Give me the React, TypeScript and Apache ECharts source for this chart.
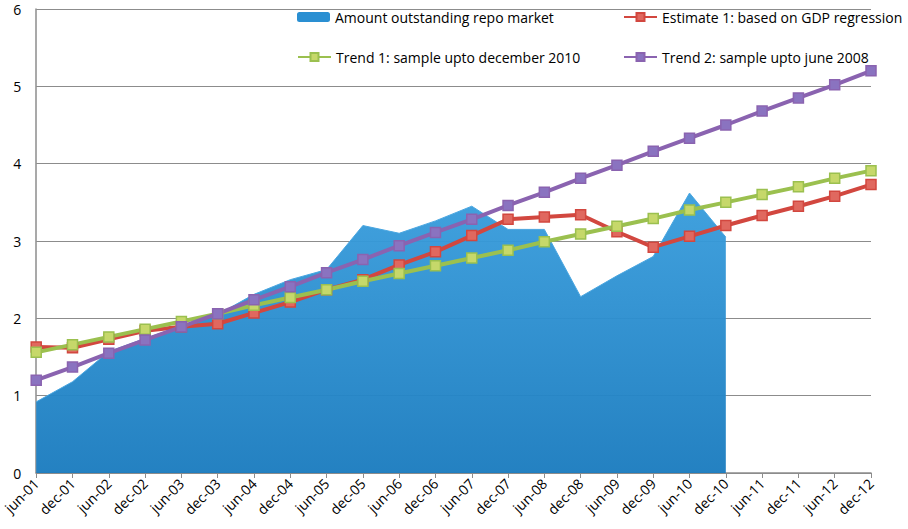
import React, { useEffect, useRef } from "react";
import * as echarts from "echarts";

const categories = [
  "jun-01", "dec-01", "jun-02", "dec-02", "jun-03", "dec-03", "jun-04", "dec-04",
  "jun-05", "dec-05", "jun-06", "dec-06", "jun-07", "dec-07", "jun-08", "dec-08",
  "jun-09", "dec-09", "jun-10", "dec-10", "jun-11", "dec-11", "jun-12", "dec-12",
];

const repoAmount: (number | null)[] = [
  0.92, 1.18, 1.57, 1.74, 1.9, 2.05, 2.31, 2.5, 2.63, 3.2, 3.1, 3.26,
  3.45, 3.15, 3.15, 2.28, 2.55, 2.8, 3.62, 3.05, null, null, null, null,
];

const estimate1 = [
  1.63, 1.62, 1.73, 1.84, 1.89, 1.93, 2.07, 2.21, 2.37, 2.5, 2.69, 2.86,
  3.07, 3.28, 3.31, 3.34, 3.12, 2.92, 3.06, 3.2, 3.33, 3.45, 3.58, 3.73,
];

const trend1 = [
  1.56, 1.66, 1.76, 1.86, 1.96, 2.06, 2.17, 2.27, 2.37, 2.48, 2.58, 2.68,
  2.78, 2.88, 2.99, 3.09, 3.19, 3.29, 3.4, 3.5, 3.6, 3.7, 3.81, 3.91,
];

const trend2 = [
  1.2, 1.37, 1.55, 1.72, 1.89, 2.06, 2.24, 2.41, 2.59, 2.76, 2.94, 3.11,
  3.28, 3.46, 3.63, 3.81, 3.98, 4.16, 4.33, 4.5, 4.68, 4.85, 5.02, 5.2,
];

const seriesNames = [
  "Amount outstanding repo market",
  "Estimate 1: based on GDP regression",
  "Trend 1: sample upto december 2010",
  "Trend 2: sample upto june 2008",
];

const FONT = "Open Sans";

export default function App() {
  const ref = useRef<HTMLDivElement>(null);
  useEffect(() => {
    if (!ref.current) return;
    const chart = echarts.init(ref.current, undefined, { renderer: "svg" });
    const legendBase = {
      itemWidth: 33,
      itemHeight: 10,
      itemGap: 4,
      padding: 0,
      textStyle: { fontFamily: FONT, fontSize: 14, color: "#000" },
    };
    const lineSeries = (name: string, data: number[], color: string, light: string) => ({
      name,
      type: "line",
      data,
      symbol: "rect",
      symbolSize: 10,
      lineStyle: { color, width: 4 },
      itemStyle: { color: light, borderColor: color, borderWidth: 1.5 },
      z: 3,
    });
    chart.setOption({
      animation: false,
      backgroundColor: "#ffffff",
      textStyle: { fontFamily: FONT },
      grid: { left: 33, right: 37, top: 9, bottom: 56, containLabel: false },
      legend: [
        {
          ...legendBase,
          left: 297,
          top: 10,
          data: [{ name: seriesNames[0], icon: "roundRect", itemStyle: { color: "#2a8fd2" } }],
        },
        { ...legendBase, left: 623, top: 10, data: [seriesNames[1]] },
        { ...legendBase, left: 297, top: 50, data: [seriesNames[2]] },
        { ...legendBase, left: 623, top: 50, data: [seriesNames[3]] },
      ],
      xAxis: {
        type: "category",
        data: categories,
        boundaryGap: false,
        axisLine: { lineStyle: { color: "#8c8c8c", width: 1.5 } },
        axisTick: { show: true, length: 5, lineStyle: { color: "#8c8c8c" } },
        axisLabel: {
          rotate: 45,
          interval: 0,
          fontFamily: FONT,
          fontSize: 14,
          color: "#000",
          margin: 8,
        },
        splitLine: { show: false },
      },
      yAxis: {
        type: "value",
        min: 0,
        max: 6,
        interval: 1,
        axisLine: { show: true, lineStyle: { color: "#8c8c8c", width: 1.5 } },
        axisTick: { show: false },
        axisLabel: { fontFamily: FONT, fontSize: 14, color: "#000", margin: 15 },
        splitLine: { lineStyle: { color: "#8c8c8c", width: 1 } },
      },
      series: [
        {
          name: seriesNames[0],
          type: "line",
          data: repoAmount,
          showSymbol: false,
          symbol: "none",
          lineStyle: { color: "#4aa6e0", width: 1 },
          itemStyle: { color: "#2a8fd2" },
          areaStyle: {
            opacity: 0.96,
            color: new echarts.graphic.LinearGradient(0, 0, 0, 1, [
              { offset: 0, color: "#3a9edd" },
              { offset: 1, color: "#1b7cbf" },
            ]),
          },
          z: 2,
        },
        lineSeries(seriesNames[1], estimate1, "#d2473f", "#e0685f"),
        lineSeries(seriesNames[2], trend1, "#9bc04f", "#c6d86a"),
        lineSeries(seriesNames[3], trend2, "#8a63b0", "#8a73c0"),
      ],
    });
    return () => chart.dispose();
  }, []);
  return (
    <div
      ref={ref}
      style={{ position: "fixed", left: 0, top: 0, width: 908, height: 529 }}
    />
  );
}
